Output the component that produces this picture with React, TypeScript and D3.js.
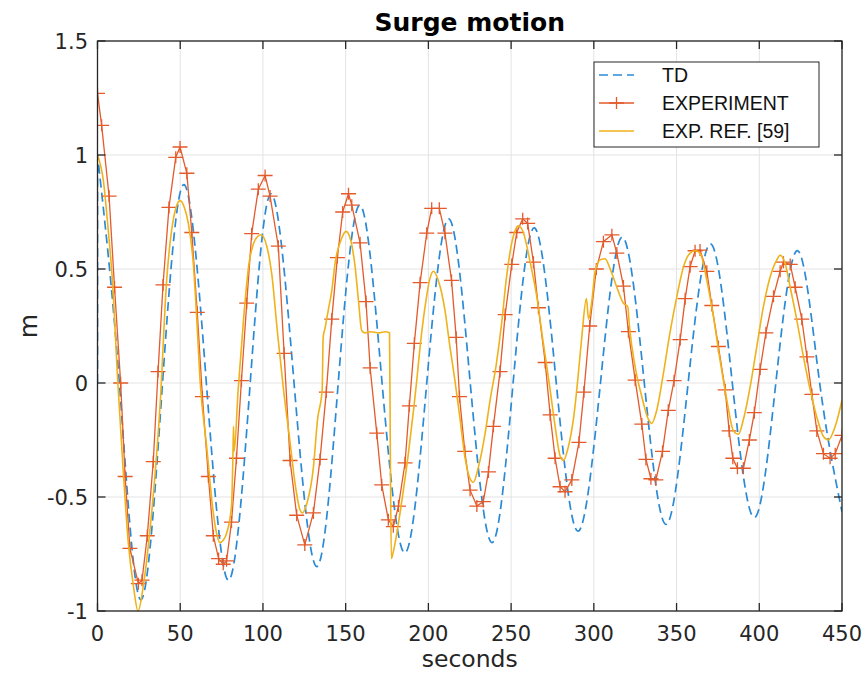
import React from 'react';
import * as d3 from 'd3';

const W = 863;
const H = 675;

const xTicks = [0, 50, 100, 150, 200, 250, 300, 350, 400, 450];
const yTicks = [-1, -0.5, 0, 0.5, 1, 1.5];
const yTickLabels = ['-1', '-0.5', '0', '0.5', '1', '1.5'];
const seriesNames = ['TD', 'EXPERIMENT', 'EXP. REF. [59]'];

// TD (time-domain simulation) : [seconds, m]
const tdData: [number, number][] = [
  [0, 0], [0, 1.0], [13, 0.02], [26, -0.95], [39.3, 0], [52.3, 0.87], [65.8, 0], [79.2, -0.865],
  [92.3, 0], [105, 0.83], [118.8, 0], [132.6, -0.805], [145.5, 0], [158.6, 0.78], [172, 0],
  [185.8, -0.745], [199, 0], [212.3, 0.72], [225.3, 0], [238.5, -0.7], [251.2, 0], [264, 0.68],
  [277.3, 0], [290.5, -0.65], [304, 0], [317.2, 0.64], [330.5, 0], [343.7, -0.62], [357, 0],
  [370.5, 0.61], [383.7, 0], [397, -0.59], [410, 0], [423.3, 0.58], [436.5, 0], [450, -0.565],
];

// EXPERIMENT (sampled points, drawn with + markers)
const expData: [number, number][] = [
  [0, 1.27], [2.5, 1.13], [7, 0.82], [10.3, 0.42], [14, 0.0], [16.7, -0.41], [19.6, -0.725], [24.7, -0.88],
  [26.9, -0.865], [30.1, -0.67], [33.7, -0.345], [36.6, 0.05], [39.6, 0.43], [43.2, 0.77], [47.3, 0.99],
  [49.9, 1.035], [54, 0.92], [57, 0.66], [60.3, 0.31], [63.4, -0.06], [67, -0.41], [70, -0.67],
  [73.2, -0.77], [76, -0.795], [78, -0.78], [81, -0.61], [84, -0.33], [87, 0.01], [90.2, 0.35],
  [93.2, 0.655], [97.2, 0.85], [101.3, 0.91], [104.3, 0.82], [109.3, 0.6], [112.8, 0.13], [116.4, -0.34],
  [120.4, -0.58], [125.3, -0.71], [130.5, -0.57], [134.5, -0.335], [138.3, -0.04], [141.6, 0.28],
  [145, 0.55], [148.2, 0.75], [151.7, 0.83], [153.7, 0.78], [158.7, 0.615], [162.3, 0.357],
  [164.8, 0.066], [168.8, -0.22], [171.8, -0.447], [175.8, -0.6], [178.8, -0.63], [181.9, -0.54],
  [185.9, -0.35], [188.5, -0.1], [191.5, 0.174], [195, 0.44], [199, 0.657], [202, 0.766], [206.6, 0.766],
  [210, 0.657], [214, 0.45], [216.8, 0.2], [218.8, -0.06], [222, -0.3], [225.2, -0.47], [229.3, -0.54],
  [233.2, -0.52], [236.3, -0.39], [239.3, -0.19], [243.3, 0.05], [246.4, 0.3], [250.4, 0.52],
  [253.4, 0.66], [257, 0.72], [260, 0.7], [263.5, 0.53], [266.5, 0.33], [270.6, 0.09], [273.6, -0.14],
  [276.6, -0.33], [279.6, -0.455], [282.6, -0.477], [286.7, -0.425], [291, -0.26], [294, -0.04],
  [297.5, 0.25], [301.5, 0.5], [305.8, 0.62], [310.9, 0.65], [313.9, 0.57], [317.9, 0.425],
  [320.9, 0.225], [325, 0.013], [329, -0.18], [331.5, -0.335], [334.5, -0.42], [337.5, -0.425],
  [341.5, -0.3], [345, -0.12], [348.5, 0.01], [352.2, 0.19], [355.2, 0.37], [358.2, 0.51], [361.2, 0.58],
  [364.2, 0.583], [368.3, 0.49], [371.3, 0.34], [375.3, 0.16], [379.4, -0.03], [381.8, -0.21],
  [384, -0.33], [386.8, -0.374], [390.4, -0.374], [394, -0.25], [397, -0.13], [400.5, 0.06],
  [404, 0.22], [408.6, 0.38], [412.6, 0.49], [414.6, 0.53], [418.7, 0.52], [421.7, 0.42], [425.7, 0.28],
  [428.8, 0.115], [431.8, -0.05], [434.8, -0.21], [438.8, -0.31], [442.8, -0.33], [445.9, -0.31],
  [450, -0.23],
];

// EXP. REF. [59]
const refData: [number, number][] = [
  [0, 1.0], [3.5, 0.89], [6.5, 0.67], [9, 0.45], [12.3, 0.0], [15.5, -0.38], [18.6, -0.7], [21.7, -0.89],
  [24.5, -1.0], [27.7, -0.89], [31.7, -0.645], [34.8, -0.4], [37.8, -0.1], [41.8, 0.45], [44.8, 0.67],
  [47.5, 0.77], [49.9, 0.8], [52.5, 0.77], [54.9, 0.7], [57.9, 0.525], [60, 0.28], [62, 0.01],
  [66, -0.28], [70, -0.57], [72, -0.66], [74, -0.7], [76, -0.69], [78, -0.66], [81, -0.54],
  [81.8, -0.34], [82.2, -0.19], [82.6, -0.3], [85, -0.03], [88.5, 0.3], [91.5, 0.52], [94.2, 0.61],
  [96.5, 0.64], [98.9, 0.65], [102.3, 0.6], [105.3, 0.48], [108.8, 0.22], [112.3, -0.02],
  [116.4, -0.26], [119.4, -0.44], [122.4, -0.557], [123.8, -0.57], [126.5, -0.53], [130.5, -0.37],
  [133, -0.16], [135.8, -0.03], [136.4, 0.2], [137.5, 0.24], [139.5, 0.32], [141.7, 0.41],
  [143.6, 0.525], [147.6, 0.635], [150.2, 0.665], [152.7, 0.635], [155.7, 0.51], [157.7, 0.364],
  [159.7, 0.23], [161.5, 0.22], [165, 0.225], [170, 0.22], [174, 0.225], [176.5, 0.22], [177.0, -0.3],
  [177.6, -0.77], [178.8, -0.74], [181.9, -0.615], [184.9, -0.47], [187.9, -0.31], [191, -0.12],
  [193, 0.013], [195, 0.16], [198, 0.335], [201, 0.46], [203, 0.49], [206, 0.45], [210, 0.32],
  [213, 0.16], [216, 0.013], [219, -0.15], [222.2, -0.33], [225.2, -0.42], [227.2, -0.435],
  [230.2, -0.37], [234.3, -0.22], [237.3, -0.075], [241, 0.08], [244.4, 0.27], [247, 0.45], [250, 0.6],
  [252.5, 0.67], [254.4, 0.69], [257.4, 0.66], [261.5, 0.53], [265.5, 0.38], [269.5, 0.174],
  [273.6, -0.03], [276.6, -0.19], [279.6, -0.32], [281.6, -0.34], [284.6, -0.28], [288, -0.14],
  [290.5, 0.03], [292.7, 0.2], [295.5, 0.37], [296.8, 0.28], [298.8, 0.36], [300.8, 0.49],
  [303.8, 0.54], [306.8, 0.545], [309.9, 0.5], [313.9, 0.42], [317.9, 0.35], [320.5, 0.335],
  [321.5, 0.25], [325, 0.07], [329, -0.06], [333, -0.16], [335, -0.177], [338, -0.12], [342, 0.04],
  [346, 0.22], [350.2, 0.38], [354.2, 0.51], [358.2, 0.57], [361.2, 0.58], [364.2, 0.57], [368.3, 0.45],
  [372.3, 0.29], [376.3, 0.1], [380.4, -0.075], [384.4, -0.21], [387.4, -0.225], [390.4, -0.16],
  [394.5, -0.016], [398.5, 0.16], [402.5, 0.335], [406.6, 0.466], [410.6, 0.54], [412.6, 0.56],
  [415.6, 0.525], [418.7, 0.42], [422.7, 0.276], [426.7, 0.115], [430.8, -0.03], [434.8, -0.15],
  [438.8, -0.235], [441.8, -0.25], [445.9, -0.19], [450, -0.075],
];

const C_TD = '#2a8ad6';
const C_EXP = '#e35a2b';
const C_REF = '#f0b21a';
const AX = '#262626';
const GRID = '#e3e3e3';
const FONT = '"DejaVu Sans", sans-serif';

export default function App() {
  const L = 97.5, R = 842, T = 41, B = 611;
  const x = d3.scaleLinear().domain([0, 450]).range([L, R]);
  const y = d3.scaleLinear().domain([-1, 1.5]).range([B, T]);

  const lin = d3.line<[number, number]>().x(d => x(d[0])).y(d => y(d[1]));
  const nat = d3.line<[number, number]>().x(d => x(d[0])).y(d => y(d[1])).curve(d3.curveNatural);
  const mono = d3.line<[number, number]>().x(d => x(d[0])).y(d => y(d[1])).curve(d3.curveMonotoneX);

  const tdPath = (lin(tdData.slice(0, 2)) || '') + (nat(tdData.slice(1)) || '').replace(/^M/, 'L');
  const expPath = lin(expData) || '';
  const refPath = mono(refData) || '';

  const plus = (cx: number, cy: number) => `M${cx - 7.5},${cy}H${cx + 7.5}M${cx},${cy - 6}V${cy + 6}`;
  const markerPath = expData.map(d => plus(x(d[0]), y(d[1]))).join('');

  const tick = 8;
  const lgX = 594, lgY = 62, lgW = 225, lgH = 85;
  const rows = [75, 103, 131];

  return (
    <svg width={W} height={H} style={{ position: 'absolute', left: 0, top: 0, background: '#fff' }}>
      <defs>
        <clipPath id="plotclip">
          <rect x={L} y={T - 1} width={R - L} height={B - T + 2} />
        </clipPath>
      </defs>
      <rect x={0} y={0} width={W} height={H} fill="#fff" />
      {xTicks.map(t => (
        <line key={'gx' + t} x1={x(t)} x2={x(t)} y1={T} y2={B} stroke={GRID} strokeWidth={1} />
      ))}
      {yTicks.map(t => (
        <line key={'gy' + t} x1={L} x2={R} y1={y(t)} y2={y(t)} stroke={GRID} strokeWidth={1} />
      ))}
      <g clipPath="url(#plotclip)">
        <path d={tdPath} fill="none" stroke={C_TD} strokeWidth={1.7} strokeDasharray="9,5" />
        <path d={expPath} fill="none" stroke={C_EXP} strokeWidth={1.3} />
        <path d={markerPath} fill="none" stroke={C_EXP} strokeWidth={1.3} />
        <path d={refPath} fill="none" stroke={C_REF} strokeWidth={1.6} />
      </g>
      <rect x={L} y={T} width={R - L} height={B - T} fill="none" stroke={AX} strokeWidth={1.3} />
      {xTicks.map(t => (
        <g key={'tx' + t}>
          <line x1={x(t)} x2={x(t)} y1={B} y2={B - tick} stroke={AX} strokeWidth={1.3} />
          <line x1={x(t)} x2={x(t)} y1={T} y2={T + tick} stroke={AX} strokeWidth={1.3} />
          <text x={x(t)} y={641} textAnchor="middle" fontFamily={FONT} fontSize={21} fill={AX}>{t}</text>
        </g>
      ))}
      {yTicks.map((t, i) => (
        <g key={'ty' + t}>
          <line x1={L} x2={L + tick} y1={y(t)} y2={y(t)} stroke={AX} strokeWidth={1.3} />
          <line x1={R} x2={R - tick} y1={y(t)} y2={y(t)} stroke={AX} strokeWidth={1.3} />
          <text x={88} y={y(t)} dy="0.36em" textAnchor="end" fontFamily={FONT} fontSize={21} fill={AX}>{yTickLabels[i]}</text>
        </g>
      ))}
      <text x={(L + R) / 2} y={31} textAnchor="middle" fontFamily={FONT} fontSize={25} fontWeight="bold" fill="#000">Surge motion</text>
      <text x={(L + R) / 2} y={667} textAnchor="middle" fontFamily={FONT} fontSize={23.5} fill={AX}>seconds</text>
      <text transform={`translate(37,${(T + B) / 2}) rotate(-90)`} textAnchor="middle" fontFamily={FONT} fontSize={25} fill={AX}>m</text>
      <rect x={lgX} y={lgY} width={lgW} height={lgH} fill="#fff" stroke={AX} strokeWidth={1} />
      <line x1={599} x2={634} y1={rows[0]} y2={rows[0]} stroke={C_TD} strokeWidth={1.7} strokeDasharray="9,5" />
      <line x1={599} x2={634} y1={rows[1]} y2={rows[1]} stroke={C_EXP} strokeWidth={1.3} />
      <path d={plus(616.5, rows[1])} stroke={C_EXP} strokeWidth={1.3} fill="none" />
      <line x1={599} x2={634} y1={rows[2]} y2={rows[2]} stroke={C_REF} strokeWidth={1.6} />
      {seriesNames.map((n, i) => (
        <text key={n} x={662} y={rows[i]} dy="0.36em" fontFamily='"Liberation Sans", Arial, sans-serif' fontSize={19.5} fill="#111">{n}</text>
      ))}
    </svg>
  );
}
